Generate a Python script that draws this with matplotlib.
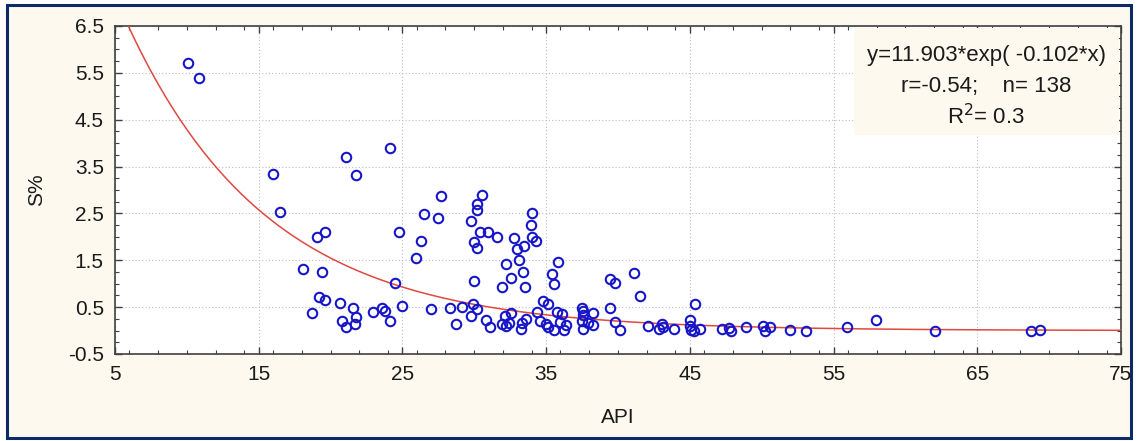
import numpy as np
import matplotlib
matplotlib.use("Agg")
import matplotlib.pyplot as plt
from matplotlib.patches import Rectangle
from matplotlib.ticker import MultipleLocator

plt.rcParams['font.family'] = ['Liberation Sans', 'DejaVu Sans']

# API values of the samples
api = [10.06, 10.86, 16.0, 16.5, 21.1, 21.78, 24.12, 19.03, 19.65, 24.73, 27.72, 26.5, 27.5, 26.3, 25.98, 18.1, 19.4,
       24.47, 19.2, 19.65, 18.68, 20.67, 21.53, 21.8, 20.77, 21.1, 21.7, 22.96, 23.57, 23.78, 24.12, 24.98, 26.98, 28.3, 28.7,
       30.52, 30.22, 30.22, 29.74, 34.02, 33.93, 30.4, 30.96, 31.6, 29.99, 30.2, 32.8, 32.95, 33.44, 33.99, 34.28, 33.1, 32.24,
       33.4, 32.54, 31.9, 33.56, 30.0, 35.83, 35.4, 35.55, 39.42, 39.82, 41.1, 41.5,
       29.18, 29.92, 30.2, 29.8, 30.85, 31.13, 32.12, 32.58, 31.93, 32.24, 32.4, 33.35, 33.63, 33.28, 34.37, 34.79, 35.13,
       34.6, 34.97, 35.13, 35.55, 35.76, 36.13, 35.99, 36.4, 36.22, 37.52, 37.57, 37.6, 38.26, 37.5, 37.9, 37.6, 38.26,
       39.47, 39.77, 40.12,
       45.33, 42.09, 42.85, 43.09, 43.13, 43.9, 44.99, 44.99, 45.06, 45.27, 45.73, 47.23, 47.7, 47.88, 48.93, 50.08, 50.2,
       50.55, 51.94, 53.05, 55.93, 57.97,
       62.04, 68.75, 69.37]
# sulphur content, S%
sulfur = [5.70, 5.40, 3.35, 2.53, 3.70, 3.33, 3.90, 2.00, 2.10, 2.10, 2.88, 2.49, 2.41, 1.92, 1.55, 1.32, 1.25,
          1.01, 0.71, 0.66, 0.37, 0.59, 0.49, 0.30, 0.20, 0.08, 0.13, 0.40, 0.49, 0.42, 0.20, 0.52, 0.45, 0.48, 0.13,
          2.90, 2.71, 2.57, 2.34, 2.51, 2.26, 2.11, 2.10, 1.99, 1.90, 1.76, 1.97, 1.75, 1.81, 1.99, 1.92, 1.50, 1.42,
          1.24, 1.13, 0.93, 0.93, 1.06, 1.47, 1.21, 0.99, 1.11, 1.01, 1.22, 0.73,
          0.50, 0.57, 0.46, 0.32, 0.22, 0.08, 0.32, 0.37, 0.15, 0.10, 0.16, 0.16, 0.25, 0.04, 0.40, 0.64, 0.57,
          0.21, 0.14, 0.07, 0.02, 0.40, 0.35, 0.18, 0.11, 0.02, 0.48, 0.41, 0.34, 0.37, 0.21, 0.16, 0.03, 0.11,
          0.48, 0.18, 0.02,
          0.57, 0.09, 0.04, 0.14, 0.07, 0.04, 0.22, 0.09, 0.02, -0.02, 0.04, 0.04, 0.05, -0.02, 0.07, 0.09, 0.00,
          0.07, 0.02, 0.00, 0.07, 0.23,
          0.00, -0.02, 0.02]

# fitted curve parameters (from the chart's equation)
fit_a = 11.903
fit_b = -0.102
fit_text = ["y=11.903*exp( -0.102*x)", "r=-0.54;    n= 138", "R$^2$= 0.3"]

cream = "#fdf9ee"

fig = plt.figure(figsize=(11.37, 4.41), dpi=100, facecolor="white")
# outer frame, kept behind the axes
frame = Rectangle((0.006, 0.007), 0.989, 0.981, transform=fig.transFigure,
                  facecolor=cream, edgecolor="#0d2a66", linewidth=2.2)
frame.set_zorder(-10)
fig.add_artist(frame)

ax = fig.add_axes([0.1011, 0.1973, 0.8848, 0.7438])
ax.set_zorder(1)
ax.set_facecolor("white")

xs = np.linspace(5, 75, 400)
ax.plot(xs, fit_a * np.exp(fit_b * xs), color="#e04840", linewidth=1.1, zorder=3)
ax.plot(api, sulfur, linestyle="none", marker="o", markersize=6.8, markerfacecolor="none",
        markeredgecolor="#1616c8", markeredgewidth=1.5, zorder=4)

ax.set_xlim(5, 75)
ax.set_ylim(-0.5, 6.5)
ax.xaxis.set_minor_locator(MultipleLocator(2))
ax.yaxis.set_minor_locator(MultipleLocator(0.25))
ax.set_xticks(np.arange(5, 76, 10))
ax.set_yticks(np.arange(-0.5, 6.6, 1))
ax.set_xticklabels([str(v) for v in range(5, 76, 10)])
ax.set_yticklabels(["-0.5", "0.5", "1.5", "2.5", "3.5", "4.5", "5.5", "6.5"])

ax.tick_params(which="both", direction="in", top=True, right=True, colors="#404040", labelcolor="#1a1a1a",
               labelsize=15)
ax.tick_params(which="major", length=5, width=1)
ax.tick_params(which="minor", length=3, width=0.8)
ax.tick_params(axis="x", pad=8)
ax.tick_params(axis="y", pad=8)
for s in ax.spines.values():
    s.set_color("#404040")
    s.set_linewidth(1.2)

ax.grid(True, which="major", linestyle=(0, (1, 2)), color="#bdbdbd", linewidth=0.8)
ax.set_axisbelow(True)

ax.set_xlabel("API", fontsize=15, color="#1a1a1a", labelpad=17)
ax.set_ylabel("S%", fontsize=15, color="#1a1a1a", labelpad=16)

# equation box
ax.add_patch(Rectangle((0.735, 0.668), 0.263, 0.326, transform=ax.transAxes,
                       facecolor=cream, edgecolor="none", zorder=5))
for t, yy in zip(fit_text, [0.9085, 0.817, 0.7226]):
    ax.text(0.866, yy, t, transform=ax.transAxes, ha="center", va="center", fontsize=16,
            color="#1a1a1a", zorder=6)

fig.savefig("out.png", dpi=100, facecolor=fig.get_facecolor())
